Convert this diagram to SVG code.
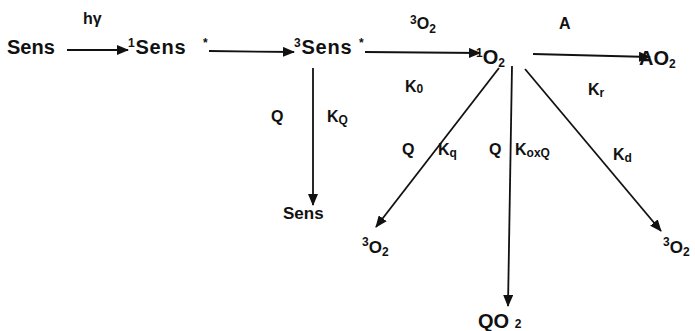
<svg xmlns="http://www.w3.org/2000/svg" width="695" height="331" viewBox="0 0 695 331">
<style>
text{font-family:"Liberation Sans",Arial,sans-serif;font-weight:bold;fill:#111}
.n{font-size:20px}
.l{font-size:16px}
.m{font-size:17px}
.sup{font-size:12px}
.sub{font-size:12px}
.c line{stroke:#111;stroke-width:1.8;marker-end:url(#ah)}
</style>
<defs>
<marker id="ah" markerUnits="userSpaceOnUse" markerWidth="12" markerHeight="10" refX="11" refY="5" orient="auto">
<path d="M0,0 L12,5 L0,10 z" fill="#111"/>
</marker>
</defs>
<rect width="695" height="331" fill="#fff"/>
<g id="connectors" class="c">
<line x1="67" y1="50" x2="128" y2="50"/>
<line x1="209" y1="51" x2="294" y2="52"/>
<line x1="365" y1="52" x2="480" y2="53"/>
<line x1="533" y1="54" x2="650" y2="57"/>
<line x1="313" y1="68" x2="313" y2="205"/>
<line x1="499" y1="68" x2="376" y2="227"/>
<line x1="512" y1="66" x2="508" y2="306"/>
<line x1="525" y1="69" x2="661" y2="231"/>
</g>
<g id="labels">
<text class="l" x="83" y="24">hγ</text>
<text class="l" x="410" y="29"><tspan class="sup" dy="-5">3</tspan><tspan dy="5">O</tspan><tspan class="sub" dy="4">2</tspan></text>
<text class="l" x="559" y="29">A</text>
<text class="l" x="588" y="95">K<tspan class="sub" dy="2">r</tspan></text>
<text class="l" x="405" y="92">K<tspan class="sub" dy="1">0</tspan></text>
<text class="l" x="271" y="122">Q</text>
<text class="l" x="327" y="122">K<tspan class="sub" dy="2">Q</tspan></text>
<text class="l" x="402" y="155">Q</text>
<text class="l" x="438" y="155">K<tspan class="sub" dy="2">q</tspan></text>
<text class="l" x="489" y="155">Q</text>
<text class="l" x="515" y="155">K<tspan class="sub" dy="2">oxQ</tspan></text>
<text class="l" x="613" y="160">K<tspan class="sub" dy="2">d</tspan></text>
</g>
<g id="sens0"><text class="n" x="7" y="54">Sens</text></g>
<g id="sens1"><text class="n" x="128" y="54" letter-spacing="0.8"><tspan class="sup" dy="-7">1</tspan><tspan dy="7">Sens</tspan></text><text class="sup" x="203" y="47">*</text></g>
<g id="sens3"><text class="n" x="294" y="54" letter-spacing="0.8"><tspan class="sup" dy="-7">3</tspan><tspan dy="7">Sens</tspan></text><text class="sup" x="359" y="47">*</text></g>
<g id="o2singlet"><text class="n" x="476" y="64"><tspan class="sup" dy="-7">1</tspan><tspan dy="7">O</tspan><tspan class="sub" dy="3">2</tspan></text></g>
<g id="ao2"><text class="n" x="639" y="65">AO<tspan class="sub" dy="3">2</tspan></text></g>
<g id="sensq"><text class="m" x="283" y="219">Sens</text></g>
<g id="o2left"><text class="m" x="362" y="253"><tspan class="sup" dy="-7">3</tspan><tspan dy="7">O</tspan><tspan class="sub" dy="3">2</tspan></text></g>
<g id="qo2"><text class="n" x="478" y="328">QO <tspan class="sub" dy="0">2</tspan></text></g>
<g id="o2right"><text class="m" x="663" y="253"><tspan class="sup" dy="-7">3</tspan><tspan dy="7">O</tspan><tspan class="sub" dy="3">2</tspan></text></g>
</svg>
